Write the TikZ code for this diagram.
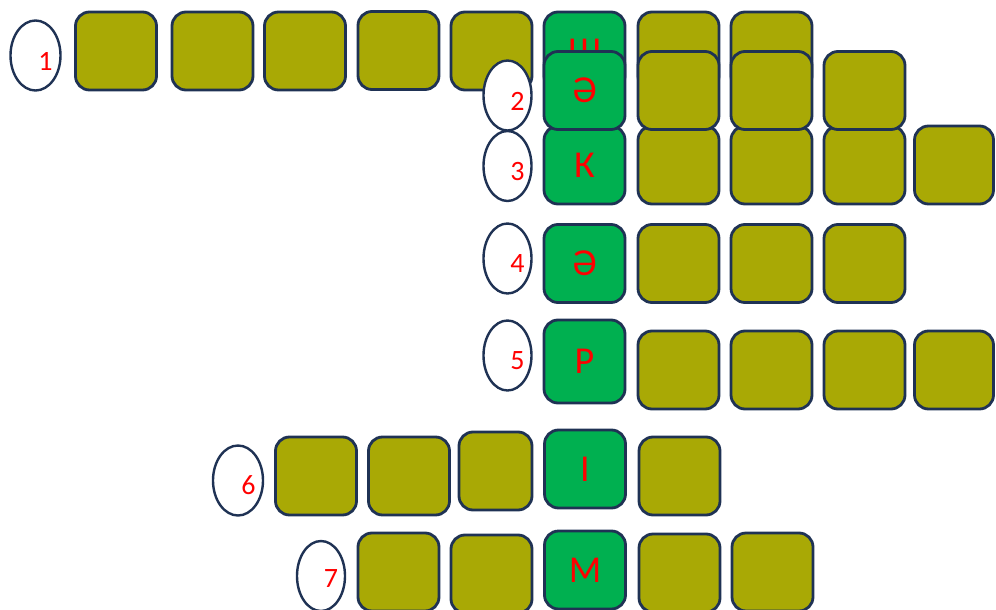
\documentclass[tikz,border=0pt]{standalone}
\usepackage{fontspec}
\setmainfont{Carlito}
\usetikzlibrary{shapes.geometric}

\definecolor{cellolive}{RGB}{169,169,5}
\definecolor{cellgreen}{RGB}{0,176,80}
\definecolor{cellline}{RGB}{31,50,84}

\begin{document}
\begin{tikzpicture}[x=1pt, y=-1pt,
    cell/.style={draw=cellline, line width=2.8pt, rounded corners=14pt, minimum width=81pt, minimum height=78pt, inner sep=0pt, fill=cellolive},
    key/.style={cell, fill=cellgreen, text=red, font=\fontsize{38}{40}\selectfont},
    oval/.style={ellipse, draw=cellline, line width=2.4pt, fill=white, minimum width=48pt, minimum height=70pt, inner sep=0pt},
    num/.style={text=red, font=\fontsize{28}{30}\selectfont, inner sep=0pt},
]
\useasboundingbox (0,0) rectangle (996,610);

\node[oval, minimum width=50pt] (e1) at (35.5,55.5) {};
\node[num] (n1) at ([xshift=10pt,yshift=-5.5pt]e1.center) {1};
\node[cell] (a11) at (116,51) {};
\node[cell] (a12) at (212.5,51) {};
\node[cell] (a13) at (305,51) {};
\node[cell] (a14) at (398.5,50.5) {};
\node[cell] (a15) at (491.5,51) {};
\node[key] (g1) at (584.5,51) {Ш};
\node[cell] (a17) at (678.5,51) {};
\node[cell] (a18) at (771.5,51) {};

\node[oval] (e3) at (507.5,166) {};
\node[num] (n3) at ([xshift=10pt,yshift=-5.5pt]e3.center) {3};
\node[key] (g3) at (584.5,165) {К};
\node[cell] (a32) at (678.5,165) {};
\node[cell] (a33) at (771.5,165) {};
\node[cell] (a34) at (864.5,165) {};
\node[cell, minimum width=79pt] (a35) at (954,165) {};

\node[oval] (e2) at (507.5,95.5) {};
\node[num] (n2) at ([xshift=10pt,yshift=-5.5pt]e2.center) {2};
\node[key] (g2) at (584.5,90.5) {Ә};
\node[cell] (a22) at (678.5,90.5) {};
\node[cell] (a23) at (771.5,90.5) {};
\node[cell] (a24) at (864.5,90.5) {};

\node[oval] (e4) at (507.5,258.5) {};
\node[num] (n4) at ([xshift=10pt,yshift=-5.5pt]e4.center) {4};
\node[key] (g4) at (584.5,263.5) {Ә};
\node[cell] (a42) at (678.5,263.5) {};
\node[cell] (a43) at (771.5,263.5) {};
\node[cell] (a44) at (864.5,263.5) {};

\node[oval] (e5) at (507.5,355.5) {};
\node[num] (n5) at ([xshift=10pt,yshift=-5.5pt]e5.center) {5};
\node[key, minimum height=83pt] (g5) at (584.5,361.5) {Р};
\node[cell] (a52) at (678.5,370) {};
\node[cell] (a53) at (771.5,370) {};
\node[cell] (a54) at (864.5,370) {};
\node[cell, minimum width=79pt] (a55) at (954,370) {};

\node[oval, minimum width=50pt] (e6) at (238,480.5) {};
\node[num] (n6) at ([xshift=10.5pt,yshift=-5pt]e6.center) {6};
\node[cell] (a61) at (316,476) {};
\node[cell] (a62) at (409,476) {};
\node[cell, minimum width=73pt] (a63) at (495.5,471) {};
\node[key] (g6) at (585,469) {І};
\node[cell] (a65) at (679.5,476) {};

\node[oval] (e7) at (321,576) {};
\node[num] (n7) at ([xshift=10pt,yshift=-3pt]e7.center) {7};
\node[cell] (a71) at (398.5,572) {};
\node[cell] (a72) at (491.5,574) {};
\node[key] (g7) at (585,570) {М};
\node[cell] (a74) at (679.5,573) {};
\node[cell] (a75) at (772.5,572) {};
\end{tikzpicture}
\end{document}
